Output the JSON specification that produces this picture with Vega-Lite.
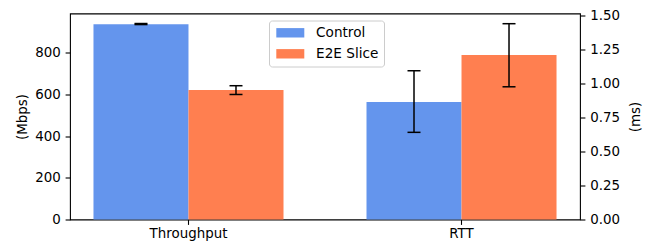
{
  "$schema": "https://vega.github.io/schema/vega-lite/v6.json",
  "width": 510,
  "height": 206,
  "autosize": "none",
  "padding": {"left": 70, "top": 13.5, "right": 70, "bottom": 23.5},
  "config": {
    "font": "DejaVu Sans",
    "view": {"stroke": "black", "strokeWidth": 1.1},
    "axis": {
      "labelFont": "DejaVu Sans",
      "labelFontSize": 13.4,
      "labelColor": "black",
      "labelOverlap": false,
      "titleFont": "DejaVu Sans",
      "titleFontSize": 13.4,
      "titleFontWeight": "normal",
      "titleColor": "black",
      "tickColor": "black",
      "tickSize": 4.9,
      "tickWidth": 1.1,
      "labelPadding": 4.9,
      "domain": false,
      "grid": false
    },
    "legend": {
      "labelFont": "DejaVu Sans",
      "labelFontSize": 13.6,
      "labelColor": "black"
    }
  },
  "data": {
    "values": [
      {"metric": "Throughput", "group": "Control", "value": 936, "lo": 934, "hi": 939},
      {"metric": "Throughput", "group": "E2E Slice", "value": 620, "lo": 599, "hi": 641},
      {"metric": "RTT", "group": "Control", "value": 0.864, "lo": 0.641, "hi": 1.094},
      {"metric": "RTT", "group": "E2E Slice", "value": 1.21, "lo": 0.976, "hi": 1.44}
    ]
  },
  "encoding": {
    "x": {
      "field": "metric",
      "type": "nominal",
      "sort": ["Throughput", "RTT"],
      "scale": {"domain": ["Throughput", "RTT"], "paddingInner": 0.304, "paddingOuter": 0.086},
      "axis": {"title": null, "labelAngle": 0, "orient": "bottom", "labelPadding": 2.5}
    },
    "xOffset": {
      "field": "group",
      "type": "nominal",
      "sort": ["Control", "E2E Slice"],
      "scale": {"domain": ["Control", "E2E Slice"], "paddingInner": 0, "paddingOuter": 0}
    }
  },
  "layer": [
    {
      "transform": [{"filter": "datum.metric === 'Throughput'"}],
      "layer": [
        {
          "mark": {"type": "bar"},
          "encoding": {
            "y": {"field": "value", "type": "quantitative", "title": "(Mbps)",
                  "scale": {"domain": [0, 987], "nice": false, "zero": true},
                  "axis": {"orient": "left", "values": [0, 200, 400, 600, 800], "titlePadding": 5}},
            "color": {
              "field": "group", "type": "nominal",
              "scale": {"domain": ["Control", "E2E Slice"], "range": ["#6495ED", "#FF7F50"]},
              "legend": {
                "title": null, "orient": "none", "legendX": 199, "legendY": 7,
                "padding": 5.5, "fillColor": "white", "strokeColor": "#cccccc", "cornerRadius": 3,
                "symbolType": "M-1,-0.94H4.6V0.94H-1Z", "symbolSize": 100, "symbolStrokeWidth": 0,
                "symbolOpacity": 1, "labelOffset": 28, "rowPadding": 6
              }
            }
          }
        },
        {
          "mark": {"type": "rule", "color": "black", "strokeWidth": 1.5},
          "encoding": {
            "y": {"field": "lo", "type": "quantitative", "title": "(Mbps)",
                  "axis": {"orient": "left", "values": [0, 200, 400, 600, 800], "titlePadding": 5}},
            "y2": {"field": "hi"}
          }
        },
        {
          "mark": {"type": "tick", "color": "black", "size": 13, "thickness": 1.5, "opacity": 1},
          "encoding": {"y": {"field": "lo", "type": "quantitative", "title": "(Mbps)",
                  "axis": {"orient": "left", "values": [0, 200, 400, 600, 800], "titlePadding": 5}}}
        },
        {
          "mark": {"type": "tick", "color": "black", "size": 13, "thickness": 1.5, "opacity": 1},
          "encoding": {"y": {"field": "hi", "type": "quantitative", "title": "(Mbps)",
                  "axis": {"orient": "left", "values": [0, 200, 400, 600, 800], "titlePadding": 5}}}
        }
      ]
    },
    {
      "transform": [{"filter": "datum.metric === 'RTT'"}],
      "layer": [
        {
          "mark": {"type": "bar"},
          "encoding": {
            "y": {"field": "value", "type": "quantitative", "title": "(ms)",
                  "scale": {"domain": [0, 1.515], "nice": false, "zero": true},
                  "axis": {"orient": "right", "values": [0, 0.25, 0.5, 0.75, 1.0, 1.25, 1.5], "format": ".2f", "titleAngle": 270, "titleX": 55, "titleY": 103, "titleAlign": "center", "titleBaseline": "middle", "labelOverlap": false}},
            "color": {"field": "group", "type": "nominal"}
          }
        },
        {
          "mark": {"type": "rule", "color": "black", "strokeWidth": 1.5},
          "encoding": {
            "y": {"field": "lo", "type": "quantitative", "title": "(ms)",
                  "axis": {"orient": "right", "values": [0, 0.25, 0.5, 0.75, 1.0, 1.25, 1.5], "format": ".2f", "titleAngle": 270, "titleX": 55, "titleY": 103, "titleAlign": "center", "titleBaseline": "middle", "labelOverlap": false}},
            "y2": {"field": "hi"}
          }
        },
        {
          "mark": {"type": "tick", "color": "black", "size": 13, "thickness": 1.5, "opacity": 1},
          "encoding": {"y": {"field": "lo", "type": "quantitative", "title": "(ms)",
                  "axis": {"orient": "right", "values": [0, 0.25, 0.5, 0.75, 1.0, 1.25, 1.5], "format": ".2f", "titleAngle": 270, "titleX": 55, "titleY": 103, "titleAlign": "center", "titleBaseline": "middle", "labelOverlap": false}}}
        },
        {
          "mark": {"type": "tick", "color": "black", "size": 13, "thickness": 1.5, "opacity": 1},
          "encoding": {"y": {"field": "hi", "type": "quantitative", "title": "(ms)",
                  "axis": {"orient": "right", "values": [0, 0.25, 0.5, 0.75, 1.0, 1.25, 1.5], "format": ".2f", "titleAngle": 270, "titleX": 55, "titleY": 103, "titleAlign": "center", "titleBaseline": "middle", "labelOverlap": false}}}
        }
      ]
    }
  ],
  "resolve": {"scale": {"y": "independent"}, "axis": {"y": "independent"}}
}
